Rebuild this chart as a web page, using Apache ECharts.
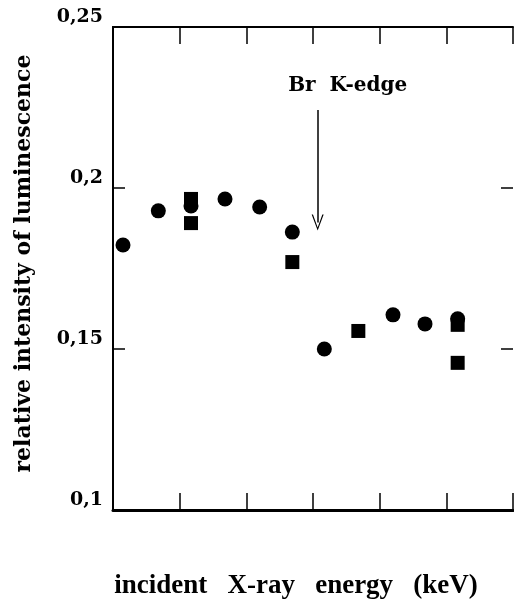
<!DOCTYPE html>
<html>
<head>
<meta charset="utf-8">
<script src="https://cdn.jsdelivr.net/npm/echarts@6/dist/echarts.min.js"></script>
<style>
  html, body { margin: 0; padding: 0; background: #fff; }
  #chart { width: 514px; height: 609px; }
</style>
</head>
<body>
<div id="chart"></div>
<script>
// values (x in tick units, no labels on the original)
const circleX = [0.15, 0.68, 1.17, 1.68, 2.2, 2.69, 3.17, 4.2, 4.68, 5.17];
const circleY = [0.1823, 0.1929, 0.1944, 0.1966, 0.1941, 0.1863, 0.150, 0.1606, 0.1578, 0.1594];
const squareX = [1.17, 1.17, 2.69, 3.68, 5.17, 5.17];
const squareY = [0.1966, 0.1891, 0.1770, 0.1556, 0.1575, 0.1457];
const edgeX = 3.07;
const edgeTop = 0.2242;
const edgeTip = 0.1893;

const myChart = echarts.init(document.getElementById('chart'));

const black = '#000';
const chevron = 'path://M50,0 L100,100 L89,100 L50,18 L11,100 L0,100 Z';

function tick(len, inside) {
    return { show: true, inside: inside, length: len, lineStyle: { color: black, width: 1.5 } };
}

// helper y axes shifted inward, only to draw the inward ticks
function yTickAxis(pos) {
    return {
        type: 'value', min: 0.1, max: 0.25, interval: 0.05,
        position: pos,
        offset: -12,
        splitLine: { show: false },
        axisLine: { show: false },
        axisLabel: { show: false },
        axisTick: tick(12, false)
    };
}

const option = {
    backgroundColor: '#fff',
    animation: false,
    grid: { left: 113, right: 1, top: 27, bottom: 99 },
    xAxis: [
        {
            type: 'value', min: 0, max: 6, interval: 1,
            position: 'bottom',
            axisLabel: { show: false },
            splitLine: { show: false },
            axisTick: tick(17, true),
            axisLine: { lineStyle: { color: black, width: 3 } },
            name: 'incident   X-ray   energy   (keV)',
            nameLocation: 'middle',
            nameGap: 63,
            nameTextStyle: {
                fontFamily: 'Liberation Serif',
                fontWeight: 'bold',
                fontSize: 27,
                color: black,
                padding: [0, 34, 0, 0]
            }
        },
        {
            type: 'value', min: 0, max: 6, interval: 1,
            position: 'top',
            axisLabel: { show: false },
            splitLine: { show: false },
            axisTick: tick(17, true),
            axisLine: { lineStyle: { color: black, width: 2 } }
        }
    ],
    yAxis: [
        {
            type: 'value', min: 0.1, max: 0.25, interval: 0.05,
            position: 'left',
            splitLine: { show: false },
            axisTick: { show: false },
            axisLine: { lineStyle: { color: black, width: 2 } },
            axisLabel: {
                margin: 10,
                verticalAlign: 'bottom',
                fontFamily: 'DejaVu Serif',
                fontWeight: 'bold',
                fontSize: 19,
                color: black,
                formatter: v => String(+v.toFixed(2)).replace('.', ',')
            },
            name: 'relative intensity of luminescence',
            nameLocation: 'middle',
            nameGap: 78,
            nameTextStyle: {
                fontFamily: 'DejaVu Serif',
                fontWeight: 'bold',
                fontSize: 22,
                color: black,
                padding: [0, 0, 0, 10]
            }
        },
        {
            type: 'value', min: 0.1, max: 0.25, interval: 0.05,
            position: 'right',
            splitLine: { show: false },
            axisTick: { show: false },
            axisLabel: { show: false },
            axisLine: { lineStyle: { color: black, width: 2 } }
        },
        yTickAxis('left'),
        yTickAxis('right')
    ],
    series: [
        {
            name: 'circles',
            type: 'scatter',
            symbol: 'circle',
            symbolSize: 15,
            itemStyle: { color: black, opacity: 1 },
            data: circleX.map((x, i) => [x, circleY[i]]),
            markLine: {
                silent: true,
                symbol: ['none', chevron],
                symbolSize: [12, 16],
                lineStyle: { color: black, width: 1.5, type: 'solid' },
                label: {
                    show: true,
                    position: 'start',
                    distance: 14,
                    formatter: 'Br  K-edge',
                    fontFamily: 'DejaVu Serif',
                    fontWeight: 'bold',
                    fontSize: 20,
                    color: black,
                    padding: [0, 0, 0, 60]
                },
                data: [[
                    { coord: [edgeX, edgeTop] },
                    { coord: [edgeX, edgeTip] }
                ]]
            }
        },
        {
            name: 'squares',
            type: 'scatter',
            symbol: 'rect',
            symbolSize: 14,
            itemStyle: { color: black, opacity: 1 },
            data: squareX.map((x, i) => [x, squareY[i]])
        }
    ]
};

myChart.setOption(option);
</script>
</body>
</html>
